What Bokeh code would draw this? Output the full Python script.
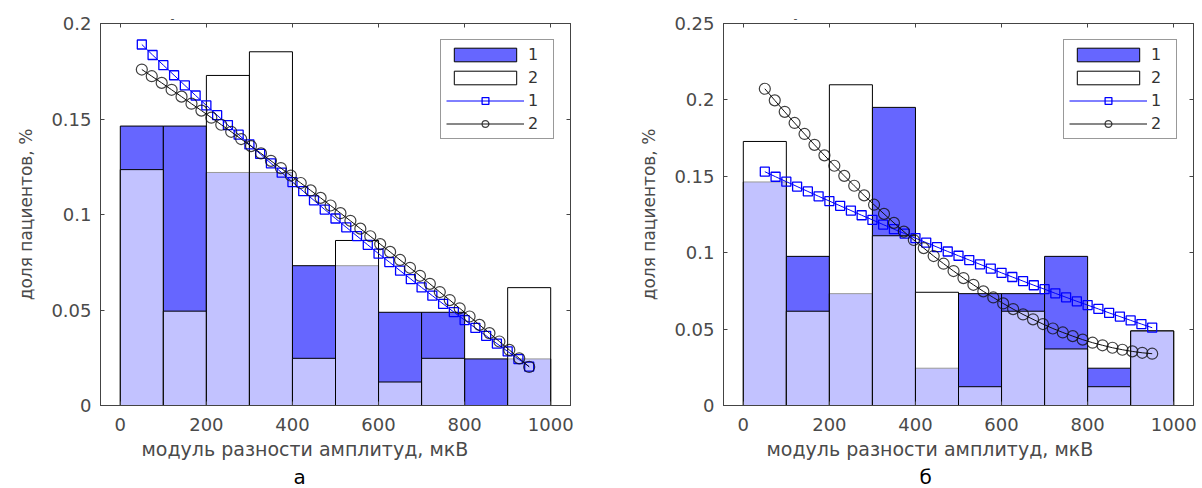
from bokeh.plotting import figure
from bokeh.models import (Range1d, LinearAxis, FixedTicker, NumeralTickFormatter,
                          CustomJSTickFormatter, Legend, LegendItem, Title)
from bokeh.layouts import row
from bokeh.embed import file_html
from bokeh.resources import INLINE

# ---------------- data ----------------
bin_edges = [0, 100, 200, 300, 400, 500, 600, 700, 800, 900, 1000]

# panel "а"
a_group1 = [0.1463, 0.1463, 0.1220, 0.1220, 0.0732, 0.0732, 0.0488, 0.0488, 0.0244, 0.0244]
a_group2 = [0.1235, 0.0494, 0.1728, 0.1852, 0.0247, 0.0864, 0.0123, 0.0247, 0.0000, 0.0617]
# panel "б"
b_group1 = [0.1463, 0.0976, 0.0732, 0.1951, 0.0244, 0.0732, 0.0732, 0.0976, 0.0244, 0.0488]
b_group2 = [0.1728, 0.0617, 0.2099, 0.1111, 0.0741, 0.0123, 0.0617, 0.0370, 0.0123, 0.0488]

fit1_x = [50, 75, 100, 125, 150, 175, 200, 225, 250, 275, 300, 325, 350, 375, 400, 425,
          450, 475, 500, 525, 550, 575, 600, 625, 650, 675, 700, 725, 750, 775, 800, 825,
          850, 875, 900, 925, 950]
fit2_x = [50.0, 73.1, 96.2, 119.2, 142.3, 165.4, 188.5, 211.5, 234.6, 257.7, 280.8, 303.8,
          326.9, 350.0, 373.1, 396.2, 419.2, 442.3, 465.4, 488.5, 511.5, 534.6, 557.7, 580.8,
          603.8, 626.9, 650.0, 673.1, 696.2, 719.2, 742.3, 765.4, 788.5, 811.5, 834.6, 857.7,
          880.8, 903.8, 926.9, 950.0]

a_fit1 = [0.1890, 0.1835, 0.1782, 0.1729, 0.1676, 0.1623, 0.1571, 0.1520, 0.1468, 0.1418,
          0.1367, 0.1317, 0.1268, 0.1219, 0.1170, 0.1122, 0.1074, 0.1026, 0.0979, 0.0933,
          0.0887, 0.0841, 0.0795, 0.0751, 0.0706, 0.0662, 0.0618, 0.0575, 0.0532, 0.0489,
          0.0447, 0.0406, 0.0365, 0.0324, 0.0283, 0.0243, 0.0204]
a_fit2 = [0.1759, 0.1724, 0.1689, 0.1653, 0.1617, 0.1580, 0.1544, 0.1507, 0.1470, 0.1433,
          0.1395, 0.1358, 0.1320, 0.1281, 0.1243, 0.1204, 0.1165, 0.1126, 0.1087, 0.1047,
          0.1007, 0.0967, 0.0926, 0.0886, 0.0845, 0.0804, 0.0762, 0.0721, 0.0679, 0.0637,
          0.0594, 0.0552, 0.0509, 0.0466, 0.0422, 0.0379, 0.0335, 0.0291, 0.0247, 0.0202]
b_fit1 = [0.1530, 0.1497, 0.1465, 0.1433, 0.1401, 0.1369, 0.1338, 0.1307, 0.1276, 0.1245,
          0.1215, 0.1184, 0.1154, 0.1125, 0.1095, 0.1066, 0.1037, 0.1008, 0.0980, 0.0952,
          0.0924, 0.0896, 0.0868, 0.0841, 0.0814, 0.0787, 0.0761, 0.0734, 0.0708, 0.0682,
          0.0657, 0.0632, 0.0606, 0.0582, 0.0557, 0.0533, 0.0509]
b_fit2 = [0.2073, 0.1997, 0.1922, 0.1849, 0.1777, 0.1706, 0.1637, 0.1569, 0.1503, 0.1438,
          0.1375, 0.1314, 0.1254, 0.1195, 0.1138, 0.1083, 0.1030, 0.0978, 0.0928, 0.0880,
          0.0834, 0.0790, 0.0747, 0.0707, 0.0668, 0.0631, 0.0596, 0.0564, 0.0533, 0.0504,
          0.0478, 0.0454, 0.0431, 0.0411, 0.0394, 0.0378, 0.0365, 0.0354, 0.0345, 0.0339]

x_ticks = [0, 200, 400, 600, 800, 1000]
a_y_ticks = [0, 0.05, 0.1, 0.15, 0.2]
b_y_ticks = [0, 0.05, 0.1, 0.15, 0.2, 0.25]

legend_labels = ["1", "2", "1", "2"]
x_label = "модуль разности амплитуд, мкВ"
y_label = "доля пациентов, %"

FONT = "DejaVu Sans"
GRAY = "#4a4a4a"
AXC = "#444444"


def make_panel(g1, g2, f1, f2, y_max, y_ticks, caption, left_border, right_border,
               xlab_offset, cap_offset):
    p = figure(frame_width=470, frame_height=382,
               x_range=Range1d(-46, 1046), y_range=Range1d(0, y_max),
               output_backend="svg", toolbar_location=None,
               min_border_left=left_border, min_border_right=right_border,
               min_border_top=23, min_border_bottom=80,
               background_fill_color="white", border_fill_color="white")
    p.grid.visible = False
    p.outline_line_color = AXC
    p.outline_line_width = 1

    bottom_ax = p.below[0]
    left_ax = p.left[0]

    lefts = bin_edges[:-1]
    rights = bin_edges[1:]
    q1 = p.quad(left=lefts, right=rights, bottom=0, top=g1,
                fill_color="#6666FF", line_color="black", line_width=1)
    q2 = p.quad(left=lefts, right=rights, bottom=0, top=g2,
                fill_color="white", fill_alpha=0.6, line_color="black", line_width=1)

    l1 = p.line(fit1_x, f1, line_color="#0000FF", line_width=1)
    s1 = p.scatter(fit1_x, f1, marker="square", size=9, fill_color=None,
                   line_color="#0000FF", line_width=1.3)
    l2 = p.line(fit2_x, f2, line_color="#111111", line_width=1)
    s2 = p.scatter(fit2_x, f2, marker="circle", size=11, fill_color=None,
                   line_color="#111111", line_alpha=0.8, line_width=1.2)

    bottom_ax.ticker = FixedTicker(ticks=x_ticks)
    left_ax.ticker = FixedTicker(ticks=y_ticks)
    left_ax.formatter = NumeralTickFormatter(format="0.[00]")

    blank = CustomJSTickFormatter(code="return ''")
    top_ax = LinearAxis(ticker=FixedTicker(ticks=x_ticks), formatter=blank)
    right_ax = LinearAxis(ticker=FixedTicker(ticks=y_ticks), formatter=blank)
    p.add_layout(top_ax, "above")
    p.add_layout(right_ax, "right")

    for ax in [bottom_ax, left_ax, top_ax, right_ax]:
        ax.major_tick_in = 4
        ax.major_tick_out = 0
        ax.minor_tick_line_color = None
        ax.axis_line_color = AXC
        ax.major_tick_line_color = AXC
        ax.major_label_text_font = FONT
        ax.major_label_text_font_size = "18px"
        ax.major_label_text_color = GRAY
    for ax in [top_ax, right_ax]:
        ax.major_label_standoff = 0
    bottom_ax.major_label_standoff = 12
    left_ax.major_label_standoff = 9

    left_ax.axis_label = y_label
    left_ax.axis_label_text_font = FONT
    left_ax.axis_label_text_font_size = "17px"
    left_ax.axis_label_text_font_style = "normal"
    left_ax.axis_label_text_color = GRAY
    left_ax.axis_label_standoff = 12

    p.add_layout(Title(text=x_label, align="left", offset=xlab_offset,
                       text_font=FONT, text_font_size="19px",
                       text_font_style="normal", text_color=GRAY, standoff=5), "below")
    p.add_layout(Title(text=caption, align="left", offset=cap_offset,
                       text_font=FONT, text_font_size="20px",
                       text_font_style="normal", text_color="black", standoff=0), "below")

    p.title.text = "-"
    p.title.align = "left"
    p.title.offset = 70
    p.title.text_font = FONT
    p.title.text_font_size = "11px"
    p.title.text_font_style = "normal"
    p.title.text_color = GRAY
    p.title.standoff = 4

    legend = Legend(items=[LegendItem(label=legend_labels[0], renderers=[q1]),
                           LegendItem(label=legend_labels[1], renderers=[q2]),
                           LegendItem(label=legend_labels[2], renderers=[l1, s1]),
                           LegendItem(label=legend_labels[3], renderers=[l2, s2])],
                    location="top_right", margin=16, padding=5, spacing=4,
                    glyph_width=78, glyph_height=17, label_height=17,
                    label_standoff=4, label_text_font=FONT,
                    label_text_font_size="16px", label_text_color="#333333",
                    border_line_color="#333333", border_line_width=1,
                    background_fill_color="white", background_fill_alpha=1)
    p.add_layout(legend)
    return p


p1 = make_panel(a_group1, a_group2, a_fit1, a_fit2, 0.2, a_y_ticks, "а", 100, 30, 41, 193)
p2 = make_panel(b_group1, b_group2, b_fit1, b_fit2, 0.25, b_y_ticks, "б", 123, 8, 43, 196)

layout = row(p1, p2)
open("out.html", "w").write(file_html(layout, INLINE))
